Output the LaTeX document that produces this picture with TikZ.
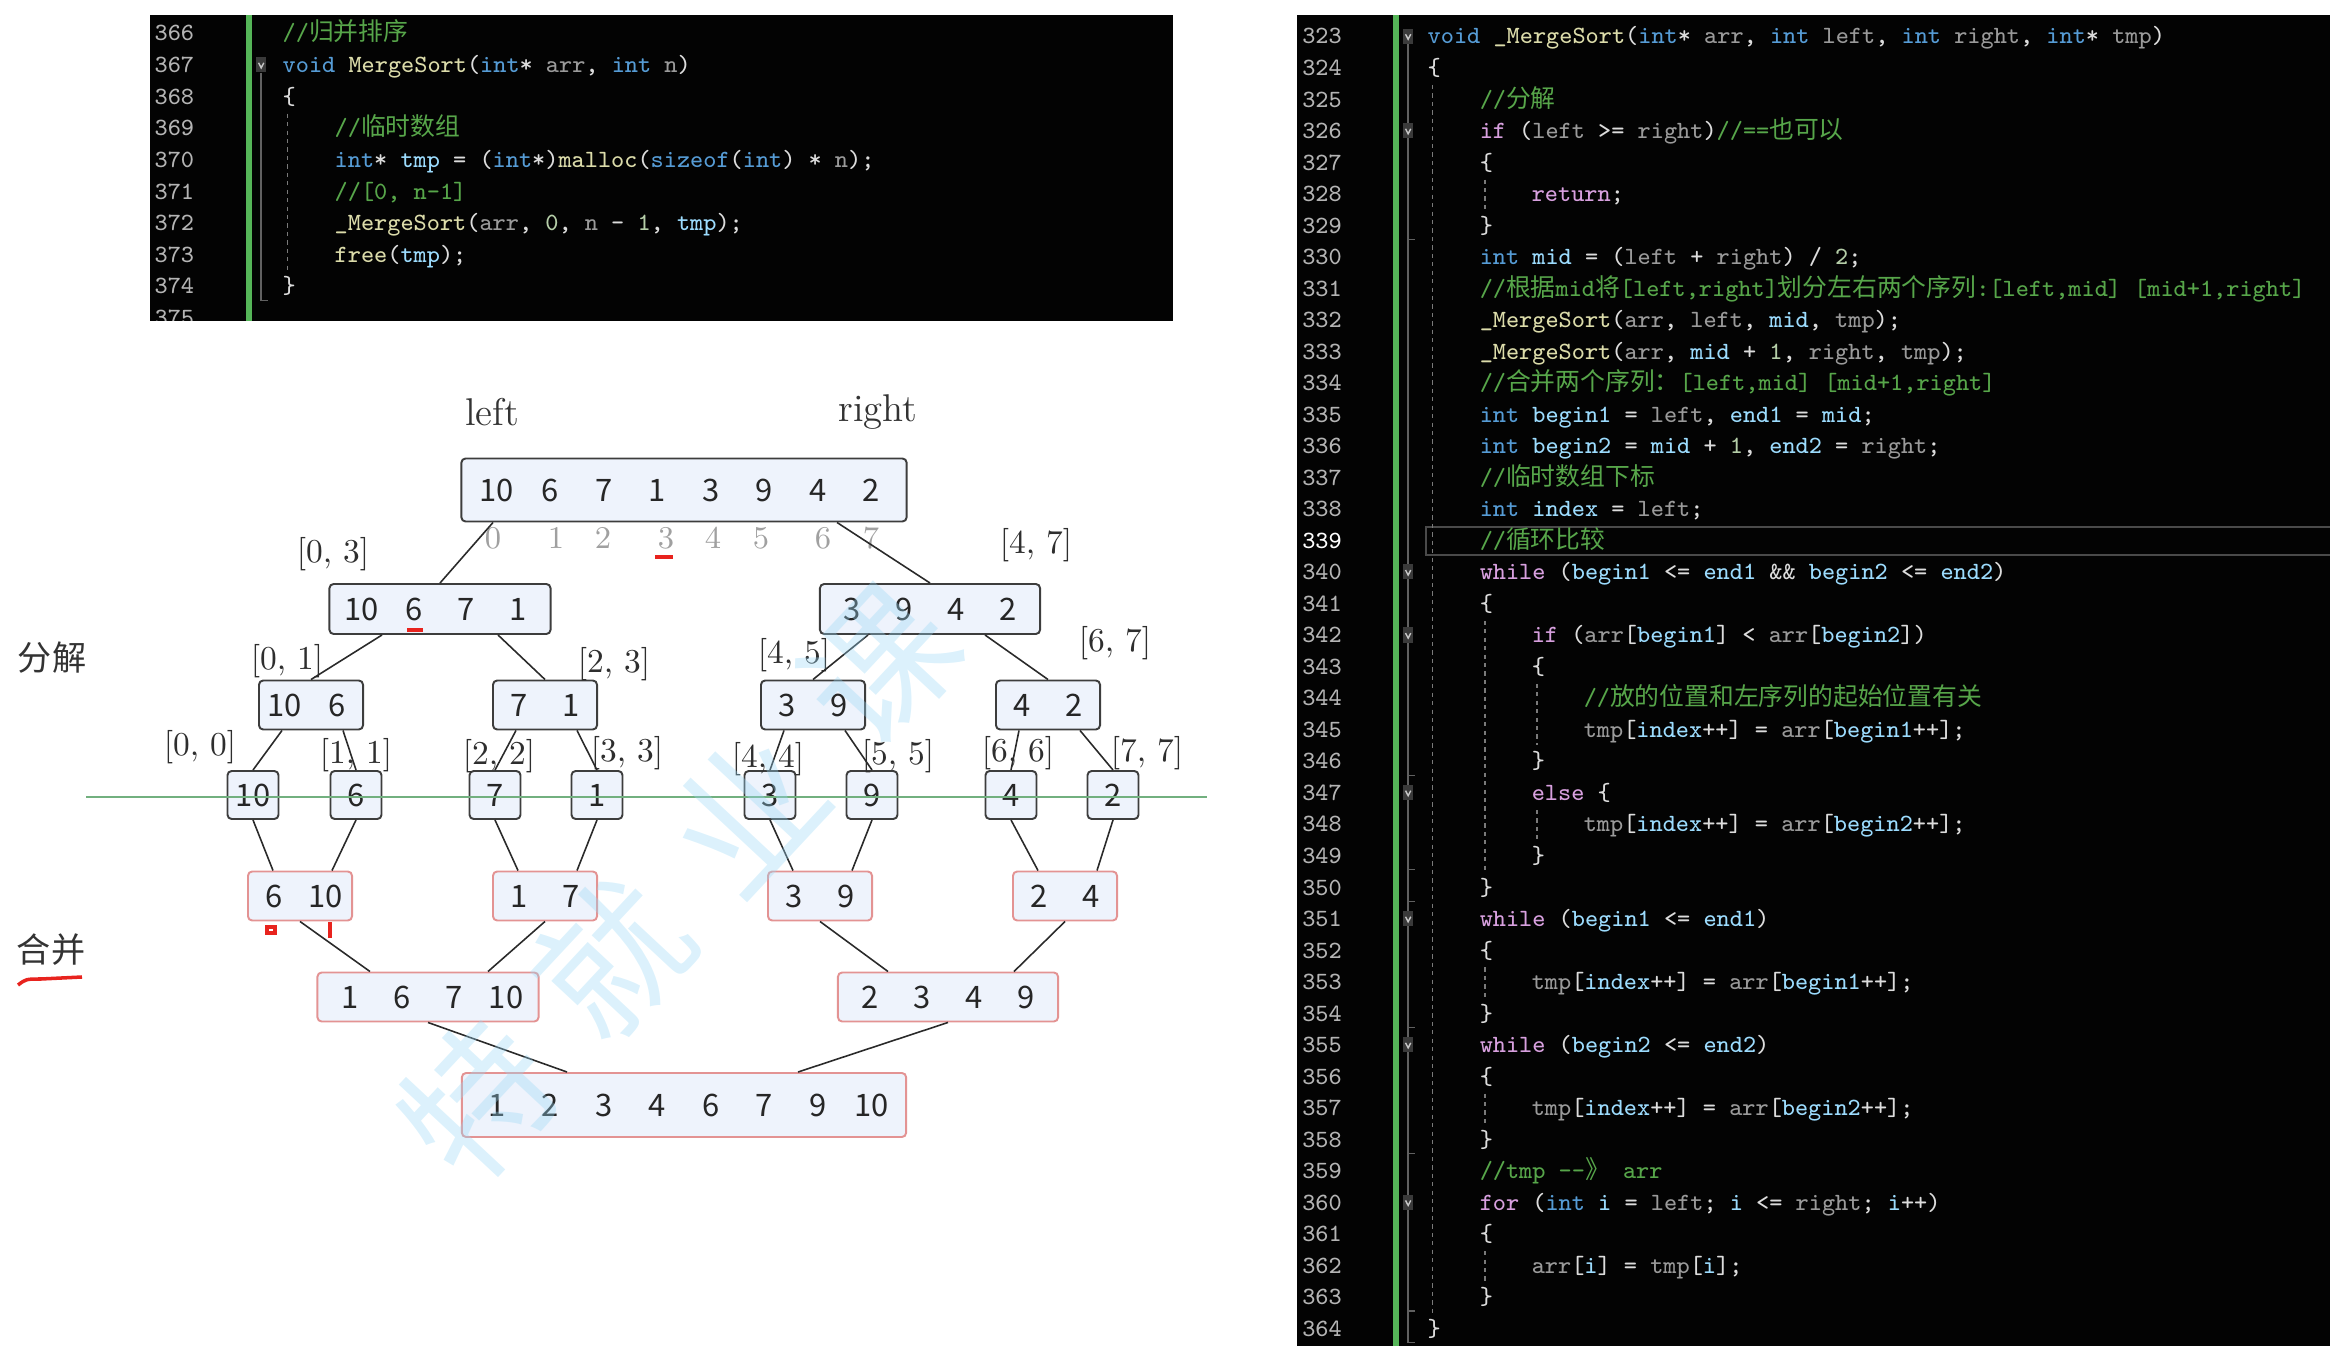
\documentclass[tikz,border=0pt]{standalone}
\usepackage{fontspec}
\newfontfamily\cjk{Noto Sans CJK SC}
\usetikzlibrary{calc}

% code colours
\definecolor{panel}{HTML}{030303}
\definecolor{lnum}{HTML}{B4B4B4}
\definecolor{plain}{HTML}{DCDCDC}
\definecolor{ckw}{HTML}{569CD6}
\definecolor{cctl}{HTML}{D8A0DF}
\definecolor{cfn}{HTML}{DCDCAA}
\definecolor{ccm}{HTML}{57A64A}
\definecolor{cpar}{HTML}{9A9A9A}
\definecolor{cvar}{HTML}{9CDCFE}
\definecolor{cnum}{HTML}{B5CEA8}
\definecolor{greenbar}{HTML}{55B558}
\definecolor{guidec}{HTML}{7A7A7A}
\definecolor{foldbg}{HTML}{3A3A3A}
\definecolor{foldfg}{HTML}{C8C8C8}
\definecolor{curline}{HTML}{4A4A4A}
% diagram colours
\definecolor{boxfill}{HTML}{EEF3FC}
\definecolor{splitline}{HTML}{3D3D3D}
\definecolor{mergeline}{HTML}{E39393}
\definecolor{linkc}{HTML}{2A2A2A}
\definecolor{rangetext}{HTML}{2E2E2E}
\definecolor{idxgray}{HTML}{A0A0A0}
\definecolor{redmark}{HTML}{E8231E}
\definecolor{cutgreen}{HTML}{72B07F}
\definecolor{wmblue}{HTML}{9AD8F6}

\newcommand{\codefont}{\fontsize{7.05pt}{9pt}\ttfamily}
\newcommand{\boxfont}{\fontsize{8.8pt}{10pt}\cjk}
\newcommand{\ckw}[1]{\textcolor{ckw}{#1}}
\newcommand{\cctl}[1]{\textcolor{cctl}{#1}}
\newcommand{\cfn}[1]{\textcolor{cfn}{#1}}
\newcommand{\ccm}[1]{\textcolor{ccm}{#1}}
\newcommand{\cpar}[1]{\textcolor{cpar}{#1}}
\newcommand{\cvar}[1]{\textcolor{cvar}{#1}}
\newcommand{\cnum}[1]{\textcolor{cnum}{#1}}
\newcommand{\numcell}[1]{\makebox[0.52cm]{#1}}
\newcommand{\widecell}[1]{\makebox[0.535cm]{#1}}

\tikzset{
    foldmark/.pic={
        \fill[foldbg] (-0.38,-0.24) rectangle (0.38,0.24);
        \draw[foldfg, line width=0.4pt] (-0.2,-0.06) -- (0,0.1) -- (0.2,-0.06);
    }
}

\begin{document}
\begin{tikzpicture}[
        x=0.01cm, y=-0.01cm,
        % code lines
        codeline/.style={anchor=base west, inner sep=0pt, font=\codefont, text=plain},
        lineno/.style={anchor=base east, inner sep=0pt, font=\codefont, text=lnum},
        foldln/.style={draw=foldbg!80!white, line width=0.4pt},
        guideline/.style={draw=guidec, line width=0.35pt, dash pattern=on 1.2pt off 1.2pt},
        % diagram boxes
        splitbox/.style={draw=splitline, fill=boxfill, rounded corners=1.2pt,
            line width=0.55pt, inner sep=0pt, font=\boxfont, text=black!85},
        mergebox/.style={splitbox, draw=mergeline},
        rangelbl/.style={inner sep=0pt, font=\fontsize{9.5pt}{11pt}\selectfont, text=rangetext},
        idxlbl/.style={inner sep=0pt, font=\fontsize{9pt}{10pt}\selectfont, text=idxgray},
        taglbl/.style={inner sep=0pt, font=\fontsize{11pt}{12pt}\selectfont, text=black!80},
        sidelbl/.style={inner sep=0pt, font=\fontsize{9.7pt}{11pt}\cjk, text=black!80},
        treelink/.style={draw=linkc, line width=0.45pt},
        wmark/.style={inner sep=0pt, font=\fontsize{42pt}{44pt}\cjk, text=wmblue,
            opacity=0.35, rotate=47}
    ]
    \useasboundingbox (0,0) rectangle (2330,1346);

    % --- code panels ---
    \fill[panel] (150,15) rectangle (1173,321);
    \fill[panel] (1297,15) rectangle (2330,1346);
    \fill[greenbar] (246,15) rectangle (252,321);
    \fill[greenbar] (1393,15) rectangle (1399,1346);

    % left panel: MergeSort
    \begin{scope}
        \clip (150,15) rectangle (1173,321);
        \begin{scope}[shift={(282,41)}, x=0.13cm, y=-0.316cm]
            \foreach \k in {0,...,9} {
                \pgfmathtruncatemacro\n{366+\k}
                \node[lineno] (ln\n) at (-6.7,\k) {\n};
            }
            \draw[foldln] (-1.6,1) -- (-1.6,8.2) -- (-1.1,8.2);
            \pic at (-1.6,0.75) {foldmark};
            \draw[guideline] (0.45,2.3) -- (0.45,7.25);

            \node[codeline] (l366) at (0,0) {\ccm{//{\cjk 归并排序}}};
            \node[codeline] (l367) at (0,1) {\ckw{void} \cfn{MergeSort}(\ckw{int}* \cpar{arr}, \ckw{int} \cpar{n})};
            \node[codeline] (l368) at (0,2) {\{};
            \node[codeline] (l369) at (4,3) {\ccm{//{\cjk 临时数组}}};
            \node[codeline] (l370) at (4,4) {\ckw{int}* \cvar{tmp} = (\ckw{int}*)\cfn{malloc}(\ckw{sizeof}(\ckw{int}) * \cpar{n});};
            \node[codeline] (l371) at (4,5) {\ccm{//[0, n-1]}};
            \node[codeline] (l372) at (4,6) {\cfn{\_MergeSort}(\cpar{arr}, \cnum{0}, \cpar{n} - \cnum{1}, \cvar{tmp});};
            \node[codeline] (l373) at (4,7) {\cfn{free}(\cvar{tmp});};
            \node[codeline] (l374) at (0,8) {\}};
        \end{scope}
    \end{scope}

    % right panel: _MergeSort
    \begin{scope}[shift={(1427,44)}, x=0.13cm, y=-0.315cm]
        \draw[curline, line width=0.6pt] (-0.1,15.33) rectangle (70,16.22);
        \foreach \k in {0,...,15,17,18,...,41} {
            \pgfmathtruncatemacro\n{323+\k}
            \node[lineno] (rn\n) at (-6.5,\k) {\n};
        }
        \node[lineno, text=white] (rn339) at (-6.5,16) {339};

        \draw[foldln] (-1.45,0) -- (-1.45,41.2) -- (-0.95,41.2);
        \foreach \t in {6,23,26,27,31,35,40}
            \draw[foldln] (-1.45,\t+0.2) -- (-0.95,\t+0.2);
        \foreach \k in {0,3,17,19,24,28,32,37}
            \pic at (-1.45,\k-0.25) {foldmark};

        \draw[guideline] (0.45,1.3) -- (0.45,40.25);
        \draw[guideline] (4.45,4.3) -- (4.45,5.25);
        \draw[guideline] (4.45,18.3) -- (4.45,26.25);
        \draw[guideline] (8.45,20.3) -- (8.45,22.25);
        \draw[guideline] (8.45,24.3) -- (8.45,25.25);
        \draw[guideline] (4.45,29.3) -- (4.45,30.25);
        \draw[guideline] (4.45,33.3) -- (4.45,34.25);
        \draw[guideline] (4.45,38.3) -- (4.45,39.25);

        \node[codeline] (r323) at (0,0) {\ckw{void} \cfn{\_MergeSort}(\ckw{int}* \cpar{arr}, \ckw{int} \cpar{left}, \ckw{int} \cpar{right}, \ckw{int}* \cpar{tmp})};
        \node[codeline] (r324) at (0,1) {\{};
        \node[codeline] (r325) at (4,2) {\ccm{//{\cjk 分解}}};
        \node[codeline] (r326) at (4,3) {\cctl{if} (\cpar{left} >= \cpar{right})\ccm{//=={\cjk 也可以}}};
        \node[codeline] (r327) at (4,4) {\{};
        \node[codeline] (r328) at (8,5) {\cctl{return};};
        \node[codeline] (r329) at (4,6) {\}};
        \node[codeline] (r330) at (4,7) {\ckw{int} \cvar{mid} = (\cpar{left} + \cpar{right}) / \cnum{2};};
        \node[codeline] (r331) at (4,8) {\ccm{//{\cjk 根据}mid{\cjk 将}[left,right]{\cjk 划分左右两个序列}:[left,mid] [mid+1,right]}};
        \node[codeline] (r332) at (4,9) {\cfn{\_MergeSort}(\cpar{arr}, \cpar{left}, \cvar{mid}, \cpar{tmp});};
        \node[codeline] (r333) at (4,10) {\cfn{\_MergeSort}(\cpar{arr}, \cvar{mid} + \cnum{1}, \cpar{right}, \cpar{tmp});};
        \node[codeline] (r334) at (4,11) {\ccm{//{\cjk 合并两个序列：}[left,mid] [mid+1,right]}};
        \node[codeline] (r335) at (4,12) {\ckw{int} \cvar{begin1} = \cpar{left}, \cvar{end1} = \cvar{mid};};
        \node[codeline] (r336) at (4,13) {\ckw{int} \cvar{begin2} = \cvar{mid} + \cnum{1}, \cvar{end2} = \cpar{right};};
        \node[codeline] (r337) at (4,14) {\ccm{//{\cjk 临时数组下标}}};
        \node[codeline] (r338) at (4,15) {\ckw{int} \cvar{index} = \cpar{left};};
        \node[codeline] (r339) at (4,16) {\ccm{//{\cjk 循环比较}}};
        \node[codeline] (r340) at (4,17) {\cctl{while} (\cvar{begin1} <= \cvar{end1} \&\& \cvar{begin2} <= \cvar{end2})};
        \node[codeline] (r341) at (4,18) {\{};
        \node[codeline] (r342) at (8,19) {\cctl{if} (\cpar{arr}[\cvar{begin1}] < \cpar{arr}[\cvar{begin2}])};
        \node[codeline] (r343) at (8,20) {\{};
        \node[codeline] (r344) at (12,21) {\ccm{//{\cjk 放的位置和左序列的起始位置有关}}};
        \node[codeline] (r345) at (12,22) {\cpar{tmp}[\cvar{index}++] = \cpar{arr}[\cvar{begin1}++];};
        \node[codeline] (r346) at (8,23) {\}};
        \node[codeline] (r347) at (8,24) {\cctl{else} \{};
        \node[codeline] (r348) at (12,25) {\cpar{tmp}[\cvar{index}++] = \cpar{arr}[\cvar{begin2}++];};
        \node[codeline] (r349) at (8,26) {\}};
        \node[codeline] (r350) at (4,27) {\}};
        \node[codeline] (r351) at (4,28) {\cctl{while} (\cvar{begin1} <= \cvar{end1})};
        \node[codeline] (r352) at (4,29) {\{};
        \node[codeline] (r353) at (8,30) {\cpar{tmp}[\cvar{index}++] = \cpar{arr}[\cvar{begin1}++];};
        \node[codeline] (r354) at (4,31) {\}};
        \node[codeline] (r355) at (4,32) {\cctl{while} (\cvar{begin2} <= \cvar{end2})};
        \node[codeline] (r356) at (4,33) {\{};
        \node[codeline] (r357) at (8,34) {\cpar{tmp}[\cvar{index}++] = \cpar{arr}[\cvar{begin2}++];};
        \node[codeline] (r358) at (4,35) {\}};
        \node[codeline] (r359) at (4,36) {\ccm{//tmp -{}-{\cjk 》} arr}};
        \node[codeline] (r360) at (4,37) {\cctl{for} (\ckw{int} \cvar{i} = \cpar{left}; \cvar{i} <= \cpar{right}; \cvar{i}++)};
        \node[codeline] (r361) at (4,38) {\{};
        \node[codeline] (r362) at (8,39) {\cpar{arr}[\cvar{i}] = \cpar{tmp}[\cvar{i}];};
        \node[codeline] (r363) at (4,40) {\}};
        \node[codeline] (r364) at (0,41) {\}};
    \end{scope}

    % --- split / merge tree ---
    \node[taglbl] (lft) at (492,412) {left};
    \node[taglbl] (rgt) at (878,412) {right};
    \node[sidelbl] (fenjie) at (52,658) {分解};
    \node[sidelbl] (hebing) at (51,950) {合并};

    \node[splitbox, minimum width=4.45cm, minimum height=0.63cm] (top) at (684,490)
        {\widecell{10}\widecell{6}\widecell{7}\widecell{1}\widecell{3}\widecell{9}\widecell{4}\widecell{2}};
    \foreach \i/\x in {0/493,1/556,2/603,3/666,4/713,5/761,6/823,7/871}
        \node[idxlbl] (idx\i) at (\x,538) {\i};

    \node[splitbox, minimum width=2.21cm, minimum height=0.5cm] (l2a) at (440,609)
        {\numcell{10}\numcell{6}\numcell{7}\numcell{1}};
    \node[splitbox, minimum width=2.2cm, minimum height=0.5cm] (l2b) at (930,609)
        {\numcell{3}\numcell{9}\numcell{4}\numcell{2}};

    \node[splitbox, minimum width=1.04cm, minimum height=0.49cm] (l3a) at (311,705) {\numcell{10}\numcell{6}};
    \node[splitbox, minimum width=1.04cm, minimum height=0.49cm] (l3b) at (545,705) {\numcell{7}\numcell{1}};
    \node[splitbox, minimum width=1.04cm, minimum height=0.49cm] (l3c) at (813,705) {\numcell{3}\numcell{9}};
    \node[splitbox, minimum width=1.04cm, minimum height=0.49cm] (l3d) at (1048,705) {\numcell{4}\numcell{2}};

    \foreach \n/\x/\v in {l4a/253/10,l4b/356/6,l4c/495/7,l4d/597/1,l4e/770/3,l4f/872/9,l4g/1011/4,l4h/1113/2}
        \node[splitbox, minimum width=0.51cm, minimum height=0.48cm] (\n) at (\x,795) {\v};

    \node[mergebox, minimum width=1.04cm, minimum height=0.49cm] (m1a) at (300,896) {\numcell{6}\numcell{10}};
    \node[mergebox, minimum width=1.04cm, minimum height=0.49cm] (m1b) at (545,896) {\numcell{1}\numcell{7}};
    \node[mergebox, minimum width=1.04cm, minimum height=0.49cm] (m1c) at (820,896) {\numcell{3}\numcell{9}};
    \node[mergebox, minimum width=1.04cm, minimum height=0.49cm] (m1d) at (1065,896) {\numcell{2}\numcell{4}};

    \node[mergebox, minimum width=2.21cm, minimum height=0.49cm] (m2a) at (428,997)
        {\numcell{1}\numcell{6}\numcell{7}\numcell{10}};
    \node[mergebox, minimum width=2.2cm, minimum height=0.49cm] (m2b) at (948,997)
        {\numcell{2}\numcell{3}\numcell{4}\numcell{9}};

    \node[mergebox, minimum width=4.44cm, minimum height=0.64cm] (m3) at (684,1105)
        {\widecell{1}\widecell{2}\widecell{3}\widecell{4}\widecell{6}\widecell{7}\widecell{9}\widecell{10}};

    % ranges
    \node[rangelbl] (r03) at (333,554) {[0, 3]};
    \node[rangelbl] (r47) at (1036,545) {[4, 7]};
    \node[rangelbl] (r01) at (287,661) {[0, 1]};
    \node[rangelbl] (r23) at (614,664) {[2, 3]};
    \node[rangelbl] (r45) at (794,655) {[4, 5]};
    \node[rangelbl] (r67) at (1115,643) {[6, 7]};
    \node[rangelbl] (r00) at (200,747) {[0, 0]};
    \node[rangelbl] (r11) at (356,755) {[1, 1]};
    \node[rangelbl] (r22) at (499,756) {[2, 2]};
    \node[rangelbl] (r33) at (627,753) {[3, 3]};
    \node[rangelbl] (r44) at (768,759) {[4, 4]};
    \node[rangelbl] (r55) at (898,756) {[5, 5]};
    \node[rangelbl] (r66) at (1018,753) {[6, 6]};
    \node[rangelbl] (r77) at (1147,753) {[7, 7]};

    % connectors
    \draw[treelink] ($(top.south)+(-191,0)$) -- (l2a.north);
    \draw[treelink] ($(top.south)+(153,0)$) -- (l2b.north);
    \draw[treelink] ($(l2a.south)+(-58,0)$) -- (l3a.north);
    \draw[treelink] ($(l2a.south)+(58,0)$) -- (l3b.north);
    \draw[treelink] ($(l2b.south)+(-62,0)$) -- (l3c.north);
    \draw[treelink] ($(l2b.south)+(55,0)$) -- (l3d.north);
    \foreach \p/\a/\b in {l3a/l4a/l4b,l3b/l4c/l4d,l3c/l4e/l4f,l3d/l4g/l4h} {
        \draw[treelink] ($(\p.south)+(-29,0)$) -- (\a.north);
        \draw[treelink] ($(\p.south)+(32,0)$) -- (\b.north);
    }
    \foreach \m/\a/\b in {m1a/l4a/l4b,m1b/l4c/l4d,m1c/l4e/l4f,m1d/l4g/l4h} {
        \draw[treelink] (\a.south) -- ($(\m.north)+(-27,0)$);
        \draw[treelink] (\b.south) -- ($(\m.north)+(32,0)$);
    }
    \draw[treelink] (m1a.south) -- ($(m2a.north)+(-58,0)$);
    \draw[treelink] (m1b.south) -- ($(m2a.north)+(60,0)$);
    \draw[treelink] (m1c.south) -- ($(m2b.north)+(-60,0)$);
    \draw[treelink] (m1d.south) -- ($(m2b.north)+(66,0)$);
    \draw[treelink] (m2a.south) -- ($(m3.north)+(-117,0)$);
    \draw[treelink] (m2b.south) -- ($(m3.north)+(114,0)$);

    % cut line
    \coordinate (cutL) at (86,797);
    \coordinate (cutR) at (1207,797);
    \draw[cutgreen, line width=0.45pt] (cutL) -- (cutR);

    % red marks
    \draw[redmark, line width=1.2pt] ($(idx3)+(-11,19)$) -- ($(idx3)+(7,19)$);
    \draw[redmark, line width=1.2pt] ($(l2a)+(-33,21)$) -- ($(l2a)+(-17,21)$);
    \draw[redmark, line width=0.9pt] ($(m1a)+(-33,31)$) rectangle ($(m1a)+(-25,37)$);
    \draw[redmark, line width=0.9pt] ($(m1a)+(30,26)$) -- ($(m1a)+(30,42)$);
    \draw[redmark, line width=1pt] ($(hebing)+(-33,35)$) .. controls ($(hebing)+(-25,29)$) .. ($(hebing)+(-10,29)$) -- ($(hebing)+(31,27)$);

    % watermark
    \node[wmark] (wm1) at (478,1100) {特};
    \node[wmark] (wm2) at (612,958) {就};
    \node[wmark] (wm3) at (746,812) {业};
    \node[wmark] (wm4) at (880,666) {课};

\end{tikzpicture}
\end{document}
